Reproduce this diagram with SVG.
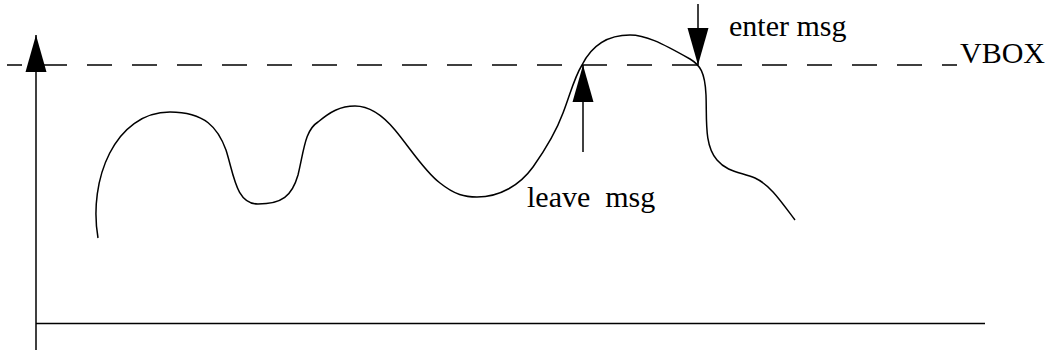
<svg xmlns="http://www.w3.org/2000/svg" width="1049" height="350" viewBox="0 0 1049 350">
  <style>
    .ln { stroke: #000; stroke-width: 1.5; fill: none; }
    .ax { stroke: #000; stroke-width: 1.6; fill: none; }
    .dash { stroke: #000; stroke-width: 1.5; fill: none; stroke-dasharray: 25 20; stroke-dashoffset: 10; }
    .lbl { font-family: "Liberation Serif", "Times New Roman", serif; font-size: 30px; fill: #000; white-space: pre; }
  </style>
  <defs>
    <marker id="ah" markerUnits="userSpaceOnUse" viewBox="-38 -11 39 22" refX="0" refY="0" markerWidth="39" markerHeight="22" orient="auto">
      <path d="M0,0 L-37,-10.5 L-37,10.5 Z" fill="#000"/>
    </marker>
  </defs>
  <rect width="1049" height="350" fill="#fff"/>

  <g id="axes">
    <line class="ax" x1="36" y1="323.5" x2="985" y2="323.5" stroke-width="2"/>
  </g>

  <g id="threshold">
    <line class="dash" x1="7" y1="65" x2="957" y2="65"/>
    <text class="lbl" x="960" y="63">VBOX</text>
  </g>

  <g id="signal">
    <path class="ln" d="M98,238 C88,180 115,112 170,112 C205,112 218,128 226,150 C234,175 236,204 258,204 C282,204 292,196 298,175 C304,150 305,130 318,122 C330,112 340,106 355,106 C372,106 385,118 395,130 C410,148 425,172 440,183 C455,195 465,197 477,197 C500,197 520,185 533,167 C545,150 556,132 563,113 C570,95 574,78 582,65 C592,45 608,35 630,35 C645,35 660,42 690,59 C700,65 705,72 706,95 C707,120 704,145 717,160 C727,172 740,172 755,178 C770,185 780,200 795,220"/>
  </g>

  <g id="connectors">
    <line class="ln" x1="36" y1="350" x2="36" y2="35" marker-end="url(#ah)"/>
    <line class="ln" x1="583" y1="152" x2="583" y2="65" marker-end="url(#ah)"/>
    <line class="ln" x1="698" y1="4" x2="698" y2="65" marker-end="url(#ah)"/>
  </g>

  <g id="enter-label">
    <text class="lbl" x="729" y="36">enter msg</text>
  </g>
  <g id="leave-label">
    <text class="lbl" x="527" y="207">leave  msg</text>
  </g>
</svg>
